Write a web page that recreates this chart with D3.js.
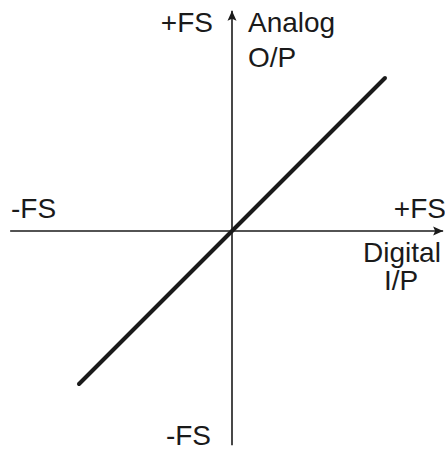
<!DOCTYPE html>
<html>
<head>
<meta charset="utf-8">
<script src="https://cdn.jsdelivr.net/npm/d3@7"></script>
<style>
  html, body { margin: 0; padding: 0; background: #fff; }
  svg text { font-family: "Liberation Sans", Arial, sans-serif; fill: #1a1a1a; }
</style>
</head>
<body>
<svg id="chart"></svg>
<script>
// transfer characteristic of an ideal bipolar DAC
const fullScale = [-1, 1];            // -FS .. +FS
const transfer = [                    // digital in -> analog out
  { x: -1, y: -1 },
  { x: 1, y: 1 }
];
const xAxisExtent = [-1.45, 1.38];
const yAxisExtent = [-1.40, 1.44];
const xLabels = ['-FS', '+FS'];
const yLabels = ['-FS', '+FS'];
const xTitle = ['Digital', 'I/P'];
const yTitle = ['Analog', 'O/P'];

const width = 445, height = 453;
const ox = 232, oy = 231, unit = 153;

const svg = d3.select('#chart').attr('width', width).attr('height', height);

const x = d3.scaleLinear().domain(fullScale).range([ox - unit, ox + unit]);
const y = d3.scaleLinear().domain(fullScale).range([oy + unit, oy - unit]);

svg.append('defs').append('marker')
  .attr('id', 'arrow')
  .attr('viewBox', '0 -5 10 10')
  .attr('refX', 10).attr('refY', 0)
  .attr('orient', 'auto')
  .attr('markerUnits', 'userSpaceOnUse')
  .attr('markerWidth', 11).attr('markerHeight', 10)
  .append('path').attr('d', 'M0,-4.5 L10,0 L0,4.5 L2,0 Z')
  .attr('fill', '#1a1a1a');

// axes
svg.append('line')
  .attr('x1', x(xAxisExtent[0])).attr('y1', y(0))
  .attr('x2', x(xAxisExtent[1])).attr('y2', y(0))
  .attr('stroke', '#1a1a1a').attr('stroke-width', 1.6)
  .attr('marker-end', 'url(#arrow)');

svg.append('line')
  .attr('x1', x(0)).attr('y1', y(yAxisExtent[0]))
  .attr('x2', x(0)).attr('y2', y(yAxisExtent[1]))
  .attr('stroke', '#1a1a1a').attr('stroke-width', 1.6)
  .attr('marker-end', 'url(#arrow)');

// transfer line
const line = d3.line().x(d => x(d.x)).y(d => y(d.y));
svg.append('path')
  .datum(transfer)
  .attr('d', line)
  .attr('fill', 'none')
  .attr('stroke', '#1a1a1a')
  .attr('stroke-width', 4)
  .attr('stroke-linecap', 'round');

const fs = 28;

// x labels
svg.append('text').attr('x', 11).attr('y', 218).attr('font-size', fs).text(xLabels[0]);
svg.append('text').attr('x', 446).attr('y', 218).attr('font-size', fs)
  .attr('text-anchor', 'end').text(xLabels[1]);

// y labels
svg.append('text').attr('x', 213).attr('y', 32).attr('font-size', fs)
  .attr('text-anchor', 'end').text(yLabels[1]);
svg.append('text').attr('x', 211).attr('y', 445).attr('font-size', fs)
  .attr('text-anchor', 'end').text(yLabels[0]);

// axis titles
svg.append('text').attr('x', 248).attr('y', 32).attr('font-size', fs).text(yTitle[0]);
svg.append('text').attr('x', 248).attr('y', 67).attr('font-size', fs).text(yTitle[1]);
svg.append('text').attr('x', 402).attr('y', 262).attr('font-size', fs)
  .attr('text-anchor', 'middle').text(xTitle[0]);
svg.append('text').attr('x', 401).attr('y', 290).attr('font-size', fs)
  .attr('text-anchor', 'middle').text(xTitle[1]);
</script>
</body>
</html>
